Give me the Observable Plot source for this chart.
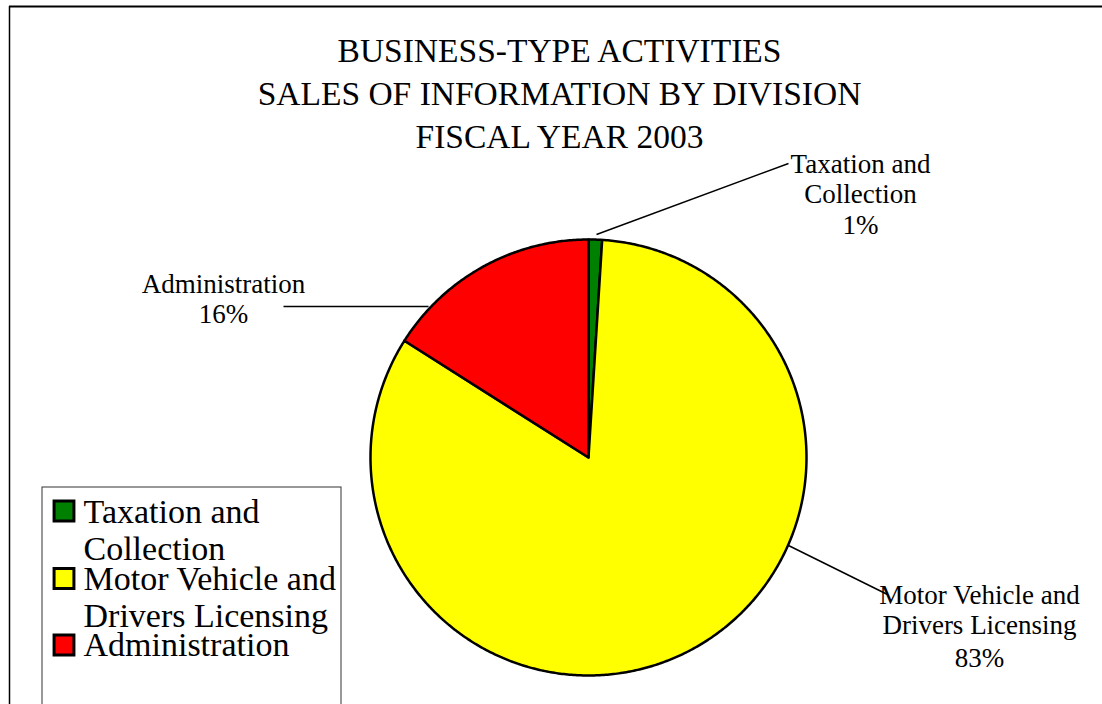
<!DOCTYPE html>
<html>
<head>
<meta charset="utf-8">
<script src="https://cdn.jsdelivr.net/npm/d3@7"></script>
<script src="https://cdn.jsdelivr.net/npm/@observablehq/plot@0.6"></script>
<style>
  html, body { margin: 0; padding: 0; background: #fff; }
  #chart { width: 1102px; height: 704px; overflow: hidden; }
</style>
</head>
<body>
<div id="chart"></div>
<script>
// ---- data ----
const titleLines = ["BUSINESS-TYPE ACTIVITIES", "SALES OF INFORMATION BY DIVISION", "FISCAL YEAR 2003"];
const categories = ["Taxation and Collection", "Motor Vehicle and Drivers Licensing", "Administration"];
const shares = [1, 83, 16];
const labelLines = [["Taxation and", "Collection"], ["Motor Vehicle and", "Drivers Licensing"], ["Administration"]];
const legendLines = [["Taxation and", "Collection"], ["Motor Vehicle and", "Drivers Licensing"], ["Administration"]];
const colors = ["#008000", "#FFFF00", "#FF0000"];

// ---- layout (pixels) ----
const W = 1102, H = 704;
const pie = {cx: 588, cy: 457, r: 218};
const titleLayout = {x: 559, baselines: [61, 104, 147], size: 33.5};
const labelLayout = [
  {x: 860, baselines: [172, 202, 233], from: [596, 234], to: [788, 163]},
  {x: 979, baselines: [603, 633, 666], from: [788, 545], to: [887, 594]},
  {x: 223, baselines: [292, 322], from: [428, 306], to: [283, 306]}
];
const labelSize = 27;
const legendLayout = {
  box: [42, 487, 341, 720],
  swatchX: 63.5, swatchCenters: [510.5, 578, 644.5], swatchR: 11.2,
  textX: 83, baselines: [[522, 559], [589, 626], [655]], size: 34
};

// ---- pie geometry from data ----
const total = d3.sum(shares);
let acc = 0;
const slices = shares.map((v, i) => {
  const a0 = acc / total * 2 * Math.PI;
  acc += v;
  const a1 = acc / total * 2 * Math.PI;
  const pts = [[pie.cx, pie.cy]];
  const n = Math.max(2, Math.ceil((a1 - a0) / (Math.PI / 360)));
  for (let k = 0; k <= n; k++) {
    const a = a0 + (a1 - a0) * k / n;
    pts.push([pie.cx + pie.r * Math.sin(a), pie.cy - pie.r * Math.cos(a)]);
  }
  pts.push([pie.cx, pie.cy]);
  return {category: categories[i], value: v, color: colors[i], pts};
});

const marks = [];

// frame
marks.push(Plot.ruleY([6], {x1: 9, x2: W, stroke: "#000", strokeWidth: 2}));
marks.push(Plot.ruleX([9], {y1: 6, y2: H, stroke: "#000", strokeWidth: 1.5}));

// title
titleLines.forEach((t, i) => {
  marks.push(Plot.text([t], {
    x: () => titleLayout.x, y: () => titleLayout.baselines[i] - 0.32 * titleLayout.size,
    text: d => d, fontSize: titleLayout.size, fill: "#000", textAnchor: "middle", lineAnchor: "middle"
  }));
});

// slices
slices.forEach(s => {
  marks.push(Plot.line(s.pts, {
    x: d => d[0], y: d => d[1], fill: s.color, stroke: "#000",
    strokeWidth: 2.5, strokeLinejoin: "round", curve: "linear"
  }));
});

// leader lines + data labels
labelLayout.forEach((L, i) => {
  marks.push(Plot.link([L], {
    x1: d => d.from[0], y1: d => d.from[1], x2: d => d.to[0], y2: d => d.to[1],
    stroke: "#000", strokeWidth: 1.5
  }));
  const lines = [...labelLines[i], `${shares[i]}%`];
  lines.forEach((t, j) => {
    marks.push(Plot.text([t], {
      x: () => L.x, y: () => L.baselines[j] - 0.32 * labelSize,
      text: d => d, fontSize: labelSize, fill: "#000", textAnchor: "middle", lineAnchor: "middle"
    }));
  });
});

// legend
const lb = legendLayout.box;
marks.push(Plot.rect([lb], {
  x1: d => d[0], y1: d => d[1], x2: d => d[2], y2: d => d[3],
  fill: "#fff", stroke: "#333", strokeWidth: 1
}));
categories.forEach((c, i) => {
  marks.push(Plot.dot([c], {
    x: () => legendLayout.swatchX, y: () => legendLayout.swatchCenters[i],
    symbol: "square", r: legendLayout.swatchR, fill: colors[i], stroke: "#000", strokeWidth: 3
  }));
  legendLines[i].forEach((t, j) => {
    marks.push(Plot.text([t], {
      x: () => legendLayout.textX, y: () => legendLayout.baselines[i][j] - 0.32 * legendLayout.size,
      text: d => d, fontSize: legendLayout.size, fill: "#000", textAnchor: "start", lineAnchor: "middle"
    }));
  });
});

const chart = Plot.plot({
  width: W, height: H, margin: 0,
  x: {domain: [0, W], range: [0, W], axis: null},
  y: {domain: [0, H], range: [0, H], axis: null},
  style: {background: "#fff", fontFamily: "'Liberation Serif', 'Times New Roman', serif", overflow: "hidden"},
  marks
});
document.getElementById("chart").appendChild(chart);
</script>
</body>
</html>
